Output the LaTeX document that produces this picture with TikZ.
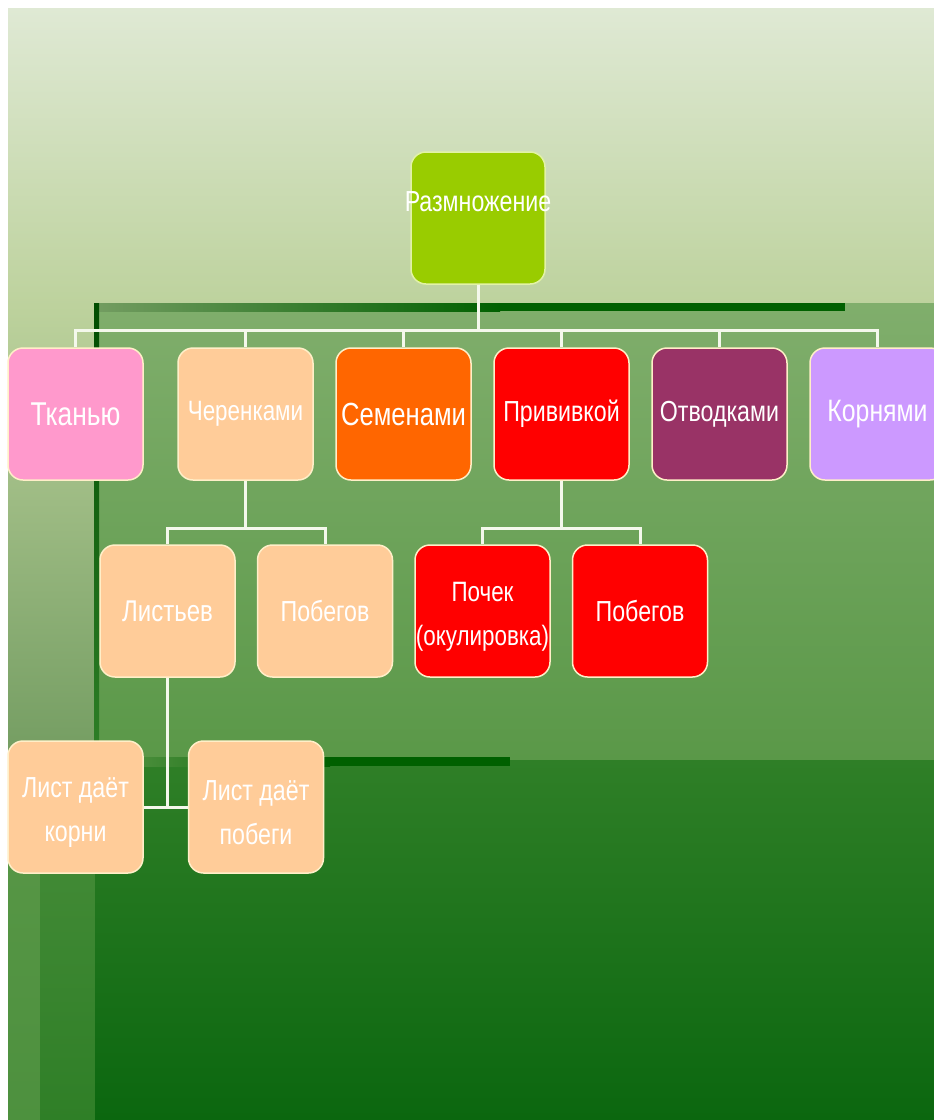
\documentclass[tikz,border=0pt]{standalone}
\usepackage{fontspec}
\setmainfont{Liberation Sans}[FakeStretch=0.8]
\usetikzlibrary{positioning}
\definecolor{bgtop}{HTML}{DFE9D4}
\definecolor{bgmid}{HTML}{BDD29D}
\definecolor{panellight}{HTML}{80AE6C}
\definecolor{paneldark}{HTML}{5A9848}
\definecolor{floortop}{HTML}{2F7F27}
\definecolor{floorbot}{HTML}{0B670F}
\definecolor{stripdark}{HTML}{006000}
\definecolor{rootgreen}{HTML}{99CC00}
\definecolor{rootedge}{HTML}{E2F2A6}
\definecolor{pinkish}{HTML}{FF99CC}
\definecolor{peach}{HTML}{FFCC99}
\definecolor{orangish}{HTML}{FF6600}
\definecolor{reddish}{HTML}{FF0000}
\definecolor{plum}{HTML}{993366}
\definecolor{lilac}{HTML}{CC99FF}
\definecolor{cream}{HTML}{FFEFC8}
\definecolor{linkwhite}{HTML}{F4F8EC}
\newcommand{\niz}{\rule{0pt}{31pt}}
\tikzset{
  vetka/.style={
    rounded corners=15pt,
    draw=cream,
    line width=1.5pt,
    minimum width=135pt,
    minimum height=132pt,
    inner sep=0pt,
    align=center,
    text=white
  },
  sz/.style={font=\fontsize{#1pt}{44pt}\selectfont},
  link/.style={
    draw=linkwhite,
    line width=3pt
  }
}

\begin{document}
\begin{tikzpicture}[x=1pt,y=-1pt,node distance=21.5pt]
% background
\useasboundingbox (0,0) rectangle (934,1120);
\fill[white] (0,0) rectangle (934,1120);
\shade[top color=bgtop, bottom color=bgmid] (8,8) rectangle (934,305);
\shade[top color=bgmid, bottom color=black!10!panellight] (8,305) rectangle (95,760);
\shade[top color=paneldark, bottom color=paneldark!70!floortop] (8,760) rectangle (40,1120);
\shade[top color=paneldark!60!floortop, bottom color=floortop] (40,760) rectangle (95,1120);
\shade[top color=panellight, bottom color=paneldark] (95,303) rectangle (934,760);
\shade[top color=floortop, bottom color=floorbot] (95,760) rectangle (934,1120);
\shade[left color=panellight!90!black, right color=stripdark] (95,303) rectangle (500,311);
\fill[stripdark] (499,303) rectangle (845,311);
\shade[top color=stripdark!80!black, bottom color=floortop] (94,303) rectangle (99,760);
\shade[left color=paneldark, right color=stripdark] (95,757) rectangle (330,766);
\fill[stripdark] (329,757) rectangle (510,766);

% nodes
\node[vetka, fill=rootgreen, draw=rootedge, minimum width=134pt, sz=29] (root) at (478,218)
  {\raisebox{7pt}[0pt][0pt]{\makebox[0pt]{Размножение}}};

\node[vetka, fill=pinkish, sz=33] (tkan) at (75.5,414) {Тканью};
\node[vetka, fill=peach, sz=28, right=33.5pt of tkan] (cheren) {Черенками};
\node[vetka, fill=orangish, sz=32, right=of cheren] (semen) {Семенами};
\node[vetka, fill=reddish, sz=29, right=of semen] (priv) {Прививкой};
\node[vetka, fill=plum, sz=29, right=of priv] (otvod) {Отводками};
\node[vetka, fill=lilac, sz=31, right=of otvod] (korn) {Корнями};

\node[vetka, fill=peach, sz=30] (list) at (167.5,611) {Листьев};
\node[vetka, fill=peach, sz=29, right=21pt of list] (pobeg) {Побегов};
\node[vetka, fill=reddish, sz=28, right=21pt of pobeg] (pochek) {\niz Почек\\(окулировка)};
\node[vetka, fill=reddish, sz=29, right=21pt of pochek] (privpobeg) {Побегов};

\node[vetka, fill=peach, sz=29] (korni) at (75.5,807) {\niz Лист даёт\\корни};
\node[vetka, fill=peach, sz=29, right=44pt of korni] (pobegi) {\niz Лист даёт\\побеги};

% connectors
\foreach \c in {tkan,cheren,semen,priv,otvod,korn}
  \draw[link] (root.south) -- ++(0,46) -| (\c.north);
\foreach \c in {list,pobeg}
  \draw[link] (cheren.south) -- ++(0,48) -| (\c.north);
\foreach \c in {pochek,privpobeg}
  \draw[link] (priv.south) -- ++(0,48) -| (\c.north);
\draw[link] (list.south) -- (list.south |- korni.east);
\draw[link] (korni.east) -- (pobegi.west);
\end{tikzpicture}
\end{document}
